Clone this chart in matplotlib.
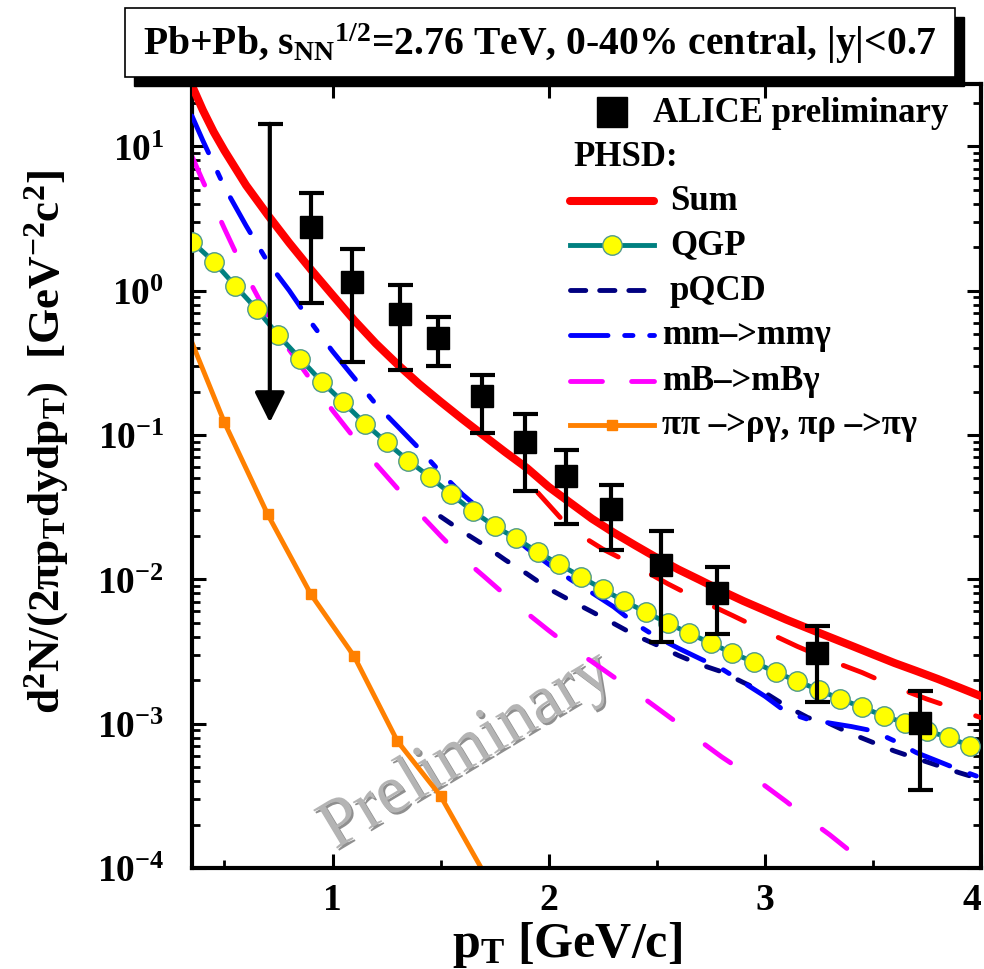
import numpy as np
import matplotlib
matplotlib.use("Agg")
import matplotlib.pyplot as plt
from matplotlib.lines import Line2D
from matplotlib.patches import Rectangle
import matplotlib.patheffects as pe
from matplotlib.ticker import FixedLocator, LogLocator, FuncFormatter, NullFormatter

plt.rcParams["font.family"] = ["Liberation Serif", "DejaVu Serif"]
plt.rcParams["font.weight"] = "bold"
plt.rcParams["axes.labelweight"] = "bold"
plt.rcParams["mathtext.fontset"] = "custom"
plt.rcParams["mathtext.rm"] = "Liberation Serif:bold"
plt.rcParams["mathtext.bf"] = "Liberation Serif:bold"
plt.rcParams["mathtext.it"] = "Liberation Serif:italic:bold"
plt.rcParams["mathtext.default"] = "bf"
plt.rcParams["lines.scale_dashes"] = False

# ---------------- data ----------------
# ALICE preliminary direct photons
alice_pt = [0.90, 1.09, 1.31, 1.49, 1.69, 1.89, 2.08, 2.29, 2.52, 2.78, 3.24, 3.72]
alice_y = [2.77, 1.15, 0.69, 0.47, 0.185, 0.090, 0.052, 0.0305, 0.0125, 0.0081, 0.00308, 0.00101]
alice_hi = [4.77, 1.95, 1.10, 0.66, 0.26, 0.139, 0.079, 0.045, 0.0215, 0.0121, 0.00473, 0.00168]
alice_lo = [0.826, 0.32, 0.28, 0.30, 0.104, 0.041, 0.024, 0.0159, 0.00366, 0.0042, 0.00141, 0.000347]
# upper limit at lowest pT
ul_pt = 0.71
ul_top = 14.3
ul_bottom = 0.122

# PHSD: sum
sum_pt = [0.35, 0.4, 0.45, 0.5, 0.6, 0.7, 0.8, 0.9, 1.0, 1.1, 1.2, 1.3, 1.4, 1.5, 1.6, 1.7,
          1.8, 1.9, 2.0, 2.1, 2.2, 2.3, 2.4, 2.5, 2.6, 2.7, 2.8, 2.9, 3.0, 3.1, 3.2, 3.3,
          3.4, 3.5, 3.6, 3.7, 3.8, 3.9, 4.0]
sum_y = [26.3, 17.8, 12.6, 9.33, 5.37, 3.35, 2.14, 1.40, 0.933, 0.624, 0.431, 0.309, 0.226,
         0.170, 0.129, 0.0989, 0.0759, 0.0589, 0.0437, 0.0339, 0.0263, 0.0211, 0.0172,
         0.0141, 0.0117, 0.00989, 0.00832, 0.00708, 0.00610, 0.00525, 0.00457, 0.00398,
         0.00347, 0.00302, 0.00263, 0.00232, 0.00204, 0.00178, 0.00155]

# PHSD: alternative sum (dashed red)
sum2_pt = [1.95, 2.1, 2.25, 2.4, 2.55, 2.7, 2.85, 3.0, 3.15, 3.3, 3.45, 3.6, 3.75, 3.9, 4.0]
sum2_y = [0.0398, 0.0224, 0.0162, 0.01245, 0.00933, 0.00716, 0.00562, 0.00437, 0.00343,
          0.00275, 0.00226, 0.00180, 0.00148, 0.00124, 0.00110]

# PHSD: QGP
qgp_pt = [0.35, 0.45, 0.55, 0.65, 0.75, 0.85, 0.95, 1.05, 1.15, 1.25, 1.35, 1.45, 1.55,
          1.65, 1.75, 1.85, 1.95, 2.05, 2.15, 2.25, 2.35, 2.45, 2.55, 2.65, 2.75, 2.85,
          2.95, 3.05, 3.15, 3.25, 3.35, 3.45, 3.55, 3.65, 3.75, 3.85, 3.95]
qgp_y = [2.18, 1.59, 1.08, 0.74, 0.489, 0.338, 0.234, 0.168, 0.120, 0.0887, 0.0664, 0.0513,
         0.0387, 0.0296, 0.0233, 0.0192, 0.0154, 0.0127, 0.0104, 0.00853, 0.00705, 0.00592,
         0.00497, 0.00423, 0.00361, 0.00308, 0.00267, 0.00227, 0.00197, 0.00171, 0.00148,
         0.00130, 0.00113, 0.00101, 0.000887, 0.000807, 0.000698]

# PHSD: pQCD
pqcd_pt = [1.5, 1.6, 1.7, 1.8, 1.9, 2.0, 2.1, 2.2, 2.3, 2.4, 2.5, 2.6, 2.7, 2.8, 2.9, 3.0,
           3.1, 3.2, 3.3, 3.4, 3.5, 3.6, 3.7, 3.8, 3.9, 4.0]
pqcd_y = [0.0272, 0.0215, 0.0173, 0.0136, 0.0109, 0.00861, 0.00714, 0.00596, 0.00495,
          0.00410, 0.00351, 0.00297, 0.00257, 0.00229, 0.00193, 0.00164, 0.00132, 0.00110,
          0.00100, 0.000851, 0.000741, 0.000646, 0.000575, 0.000513, 0.000457, 0.000412]

# PHSD: meson-meson bremsstrahlung
mm_pt = [0.35, 0.4, 0.5, 0.6, 0.7, 0.8, 0.9, 1.0, 1.1, 1.2, 1.3, 1.4, 1.5, 1.6, 1.7, 1.8,
         1.9, 2.0, 2.1, 2.2, 2.3, 2.4, 2.5, 2.6, 2.7, 2.8, 2.9, 3.0, 3.1, 3.2, 3.3, 3.4,
         3.5, 3.6, 3.7, 3.8, 3.9, 4.0]
mm_y = [16.2, 10.96, 5.22, 2.82, 1.58, 1.00, 0.603, 0.380, 0.249, 0.164, 0.115, 0.0807,
        0.0550, 0.0389, 0.0290, 0.0219, 0.0164, 0.0127, 0.0100, 0.00807, 0.00646, 0.00493,
        0.00398, 0.00333, 0.00282, 0.00240, 0.00193, 0.00155, 0.00120, 0.00107, 0.00101,
        0.000955, 0.000891, 0.000759, 0.000631, 0.000550, 0.000479, 0.000422]

# PHSD: meson-baryon bremsstrahlung
mb_pt = [0.35, 0.4, 0.5, 0.6, 0.7, 0.8, 0.9, 1.0, 1.1, 1.2, 1.3, 1.4, 1.5, 1.6, 1.7, 1.8,
         1.9, 2.0, 2.1, 2.2, 2.3, 2.4, 2.5, 2.6, 2.7, 2.8, 2.9, 3.0, 3.1, 3.2, 3.3, 3.4,
         3.5, 3.6]
mb_y = [8.51, 5.75, 2.69, 1.29, 0.676, 0.389, 0.240, 0.148, 0.0955, 0.0631, 0.0427, 0.0288,
        0.0200, 0.0141, 0.0105, 0.00776, 0.00582, 0.00442, 0.00339, 0.00269, 0.00211,
        0.00166, 0.00129, 0.00100, 0.000759, 0.000589, 0.000468, 0.000372, 0.000288,
        0.000219, 0.000170, 0.000129, 0.000105, 0.0000851]

# PHSD: pi pi -> rho gamma, pi rho -> pi gamma
pi_pt = [0.35, 0.5, 0.7, 0.9, 1.1, 1.3, 1.5, 1.7]
pi_y = [0.436, 0.122, 0.0282, 0.00787, 0.00293, 0.000757, 0.000315, 0.0000930]

x_ticks = [1, 2, 3, 4]
x_minor = [0.5, 1.5, 2.5, 3.5]

# ---------------- figure ----------------
W, H = 984, 970
fig = plt.figure(figsize=(W / 100, H / 100), dpi=100)
ax_l, ax_r, ax_t, ax_b = 192, 981, 85, 869
ax = fig.add_axes([ax_l / W, 1 - ax_b / H, (ax_r - ax_l) / W, (ax_b - ax_t) / H])
ax.set_yscale("log")
ax.set_xlim(0.35, 4.0)
ax.set_ylim(1e-4, 27)

RED, TEAL, NAVY, BLUE, MAG, ORG = "#FF0000", "#008080", "#000080", "#0000FF", "#FF00FF", "#FF8000"
LW = 3.5

ax.plot(mb_pt, mb_y, color=MAG, lw=LW, dashes=(22.5, 29.5), dash_capstyle="round", zorder=2)
ax.plot(pi_pt, pi_y, color=ORG, lw=LW, marker="s", ms=7, markevery=slice(1, None), zorder=2)
ax.plot(pqcd_pt, pqcd_y, color=NAVY, lw=LW, dashes=(9.5, 15), dash_capstyle="round", zorder=3)
ax.plot(mm_pt, mm_y, color=BLUE, lw=LW, dashes=(29, 15.5, 5, 15.5), dash_capstyle="round", zorder=3)
ax.plot(qgp_pt, qgp_y, color=TEAL, lw=LW, marker="o", ms=14, mfc="#FFFF00", mec="#4f9a8c",
        mew=1.0, zorder=4)
ax.plot(sum2_pt, sum2_y, color=RED, lw=LW, dashes=(24, 27), dash_capstyle="round", zorder=5)
ax.plot(sum_pt, sum_y, color=RED, lw=5.8, solid_capstyle="round", zorder=5)

# ALICE data with asymmetric errors
yerr = [np.array(alice_y) - np.array(alice_lo), np.array(alice_hi) - np.array(alice_y)]
ax.errorbar(alice_pt, alice_y, yerr=yerr, fmt="s", color="black", ms=16, elinewidth=3,
            capsize=9, capthick=3, zorder=6)
# upper limit
ax.annotate("", xy=(ul_pt, ul_bottom), xytext=(ul_pt, ul_top),
            arrowprops=dict(arrowstyle="-|>", lw=3, color="black", mutation_scale=46,
                            shrinkA=0, shrinkB=0), zorder=6)
ax.plot([ul_pt], [ul_top], marker="_", ms=18, mew=3, color="black", zorder=6)

# axes styling
for s in ax.spines.values():
    s.set_linewidth(3)
ax.xaxis.set_major_locator(FixedLocator(x_ticks))
ax.xaxis.set_minor_locator(FixedLocator(x_minor))
ax.yaxis.set_major_locator(LogLocator(base=10, numticks=20))
ax.yaxis.set_minor_locator(LogLocator(base=10, subs=np.arange(2, 10), numticks=20))
ax.yaxis.set_minor_formatter(NullFormatter())
ax.yaxis.set_major_formatter(FuncFormatter(lambda v, p: r"$10^{%d}$" % round(np.log10(v))))
ax.xaxis.set_major_formatter(FuncFormatter(lambda v, p: "%d" % v))
ax.tick_params(which="both", direction="in", top=True, right=True)
ax.tick_params(which="major", length=10, width=2.2)
ax.tick_params(which="minor", length=6, width=2)
ax.tick_params(axis="x", which="minor", top=False)
ax.tick_params(axis="y", which="major", labelsize=27, pad=20)
ax.tick_params(axis="x", which="major", labelsize=27, pad=10)
# keep the last x label inside the canvas
ax.get_xticklabels()[-1].set_horizontalalignment("right")

ax.set_xlabel(r"p$_{T}$ [GeV/c]", fontsize=36, fontweight="bold", va="center")
ax.xaxis.set_label_coords((567 - ax_l) / (ax_r - ax_l), (ax_b - 945) / (ax_b - ax_t))
ax.set_ylabel(r"d$^{2}$N/(2πp$_{T}$dydp$_{T}$)  [GeV$^{-2}$c$^{2}$]", fontsize=32.5,
              fontweight="bold", va="center")
ax.yaxis.set_label_coords((47 - ax_l) / (ax_r - ax_l), (ax_b - 442) / (ax_b - ax_t))

# watermark (display coordinates, origin bottom-left)
ax.text(467, H - 752, "Preliminary", transform=None, fontsize=50, fontweight="normal",
        color="#b4b4b4", rotation=31, ha="center", va="center", zorder=1,
        path_effects=[pe.SimplePatchShadow(offset=(1.5, -1.5), shadow_rgbFace="#606060",
                                           alpha=0.7), pe.Normal()])


def fx(px):
    return px / W


def fy(py):
    return 1 - py / H


# legend
fig.add_artist(Line2D([fx(612)], [fy(113)], marker="s", ms=21, color="black", ls="none"))
fig.text(fx(653), fy(113), "ALICE preliminary", fontsize=25, va="center")
fig.text(fx(573), fy(157), "PHSD:", fontsize=25, va="center")

rows = [
    (202, "Sum", 670, dict(color=RED, lw=5.8, solid_capstyle="round")),
    (246, "QGP", 670, dict(color=TEAL, lw=LW)),
    (291, "pQCD", 670, dict(color=NAVY, lw=LW, dashes=(11, 10), dash_capstyle="round")),
    (336, "mm\u2013>mmγ", 662, dict(color=BLUE, lw=LW, dashes=(27, 12, 6, 12), dash_capstyle="round")),
    (382, "mB\u2013>mBγ", 662, dict(color=MAG, lw=LW, dashes=(23, 21), dash_capstyle="round")),
    (426, "ππ \u2013>ργ, πρ \u2013>πγ", 662, dict(color=ORG, lw=LW)),
]
for py, label, tx, style in rows:
    fig.add_artist(Line2D([fx(570), fx(654)], [fy(py), fy(py)], **style))
    fig.text(fx(tx), fy(py), label, fontsize=25, va="center")
fig.add_artist(Line2D([fx(612)], [fy(246)], marker="o", ms=14, mfc="#FFFF00", mec="#4f9a8c",
                      mew=1.0, ls="none"))
fig.add_artist(Line2D([fx(612)], [fy(426)], marker="s", ms=7, color=ORG, ls="none"))

# header box with drop shadow
bx0, bx1, by0, by1, sh = 125, 955, 9, 78, 9
fig.add_artist(Rectangle((fx(bx0 + sh), fy(by1 + sh)), (bx1 - bx0) / W, (by1 - by0) / H,
                         transform=fig.transFigure, facecolor="black", edgecolor="black",
                         zorder=10))
fig.add_artist(Rectangle((fx(bx0), fy(by1)), (bx1 - bx0) / W, (by1 - by0) / H,
                         transform=fig.transFigure, facecolor="white", edgecolor="black",
                         lw=1.2, zorder=11))
fig.text(fx(540), fy(44), r"Pb+Pb, s$_{NN}$$^{1/2}$=2.76 TeV, 0-40% central, |y|<0.7",
         fontsize=28.5, ha="center", va="center", zorder=12)

fig.savefig("out.png", dpi=100)
